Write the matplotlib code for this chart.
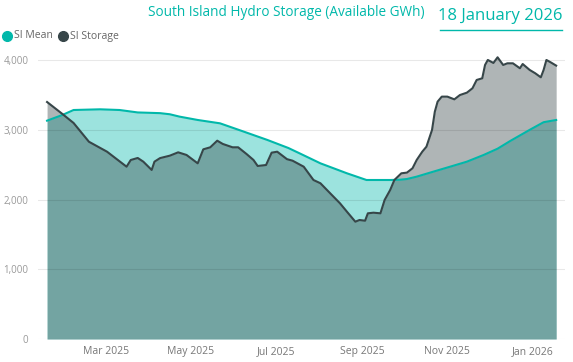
import matplotlib
matplotlib.use("Agg")
import matplotlib.pyplot as plt
import matplotlib.dates as mdates
from matplotlib.lines import Line2D
from matplotlib.ticker import FuncFormatter
import pandas as pd

# SI storage, GWh
storage_dates = ["2025-01-18", "2025-01-29", "2025-02-06", "2025-02-17", "2025-03-02",
                 "2025-03-16", "2025-03-19", "2025-03-24", "2025-03-28", "2025-04-03",
                 "2025-04-05", "2025-04-09", "2025-04-16", "2025-04-22", "2025-04-28",
                 "2025-05-06", "2025-05-10", "2025-05-15", "2025-05-20", "2025-05-24",
                 "2025-05-31", "2025-06-04", "2025-06-10", "2025-06-15", "2025-06-18",
                 "2025-06-24", "2025-06-28", "2025-07-02", "2025-07-09", "2025-07-13",
                 "2025-07-21", "2025-07-28", "2025-08-02", "2025-08-09", "2025-08-16",
                 "2025-08-21", "2025-08-27", "2025-08-30", "2025-09-03", "2025-09-05",
                 "2025-09-09", "2025-09-14", "2025-09-17", "2025-09-21", "2025-09-24",
                 "2025-09-29", "2025-10-03", "2025-10-07", "2025-10-10", "2025-10-14",
                 "2025-10-17", "2025-10-21", "2025-10-23", "2025-10-25", "2025-10-28",
                 "2025-11-01", "2025-11-06", "2025-11-10", "2025-11-15", "2025-11-19",
                 "2025-11-22", "2025-11-26", "2025-11-28", "2025-11-30", "2025-12-04",
                 "2025-12-07", "2025-12-11", "2025-12-14", "2025-12-18", "2025-12-23",
                 "2025-12-25", "2025-12-30", "2026-01-03", "2026-01-07", "2026-01-09",
                 "2026-01-11", "2026-01-14", "2026-01-18"]
storage_gwh = [3400, 3228, 3099, 2830, 2687,
               2472, 2568, 2597, 2544, 2425,
               2544, 2595, 2630, 2678, 2640,
               2520, 2721, 2750, 2845, 2798,
               2750, 2750, 2654, 2568, 2482,
               2496, 2673, 2687, 2580, 2558,
               2472, 2281, 2234, 2090, 1947,
               1826, 1683, 1707, 1697, 1803,
               1812, 1803, 1994, 2138, 2281,
               2377, 2387, 2449, 2568, 2687,
               2759, 2999, 3261, 3405, 3477,
               3477, 3438, 3500, 3534, 3597,
               3716, 3740, 3931, 4003, 3960,
               4041, 3931, 3955, 3955, 3884,
               3945, 3860, 3812, 3754, 3860,
               4003, 3970, 3922]

# SI mean, GWh
mean_dates = ["2025-01-18", "2025-01-29", "2025-02-06", "2025-02-25", "2025-03-11",
              "2025-03-24", "2025-04-09", "2025-04-16", "2025-04-23", "2025-05-06",
              "2025-05-22", "2025-06-08", "2025-06-25", "2025-07-10", "2025-07-18",
              "2025-08-02", "2025-08-21", "2025-09-04", "2025-09-21", "2025-09-28",
              "2025-10-03", "2025-10-10", "2025-10-22", "2025-11-03", "2025-11-15",
              "2025-11-27", "2025-12-07", "2025-12-16", "2025-12-30", "2026-01-09",
              "2026-01-18"]
mean_gwh = [3132, 3214, 3285, 3295, 3285,
            3250, 3240, 3224, 3190, 3142,
            3094, 2975, 2855, 2740, 2664,
            2520, 2377, 2281, 2281, 2285,
            2295, 2329, 2401, 2472, 2544,
            2640, 2730, 2840, 3000, 3110,
            3142]

month_ticks = ["2025-03-01", "2025-05-01", "2025-07-01", "2025-09-01", "2025-11-01", "2026-01-01"]

teal = "#01B8AA"
dark = "#374649"

plt.rcParams['font.family'] = ['Open Sans', 'DejaVu Sans']

s_dates = pd.to_datetime(storage_dates)
m_dates = pd.to_datetime(mean_dates)

fig = plt.figure(figsize=(5.73, 3.62), dpi=100)
ax = fig.add_axes([38/573, 23/362, 527/573, 285.8/362])

ax.fill_between(m_dates, mean_gwh, 0, color=teal, alpha=0.39, lw=0)
ax.fill_between(s_dates, storage_gwh, 0, color=dark, alpha=0.40, lw=0)
ax.plot(m_dates, mean_gwh, color=teal, lw=1.5, zorder=3)
ax.plot(s_dates, storage_gwh, color=dark, lw=1.5, zorder=4)

ax.set_xlim(pd.Timestamp("2025-01-11 12:00"), pd.Timestamp("2026-01-24 08:00"))
ax.set_ylim(0, 4100)
ax.set_yticks([0, 1000, 2000, 3000, 4000])
ax.yaxis.set_major_formatter(FuncFormatter(lambda v, p: f"{int(v):,}"))
ax.set_xticks(pd.to_datetime(month_ticks))
ax.xaxis.set_major_formatter(mdates.DateFormatter("%b %Y"))

ax.set_axisbelow('line')
ax.grid(axis='y', color='black', alpha=0.09, lw=0.8)
for sp in ax.spines.values():
    sp.set_visible(False)
ax.tick_params(axis='both', length=0, labelsize=7.5)
ax.tick_params(axis='y', colors='#999999', labelsize=7, pad=7)
ax.tick_params(axis='x', colors='#777777', pad=5)

fig.text(148/573, 1 - 12/362, "South Island Hydro Storage (Available GWh)",
         color=teal, fontsize=9.8, va='center', ha='left')
fig.text(562/573, 1 - 16/362, "18 January 2026",
         color=teal, fontsize=12, va='center', ha='right')
fig.add_artist(Line2D([440/573, 562/573], [1 - 30/362, 1 - 30/362], color=teal, lw=1))

# legend drawn by hand: dot + label
legend_items = [("SI Mean", teal, 7, 14), ("SI Storage", dark, 63, 70)]
for label, col, dot_x, txt_x in legend_items:
    fig.add_artist(Line2D([dot_x/573], [1 - 36/362], marker='o', ls='',
                          color=col, markersize=7))
    fig.text(txt_x/573, 1 - 36/362, label, color='#666666', fontsize=7.5,
             va='center', ha='left')

fig.savefig("out.png", dpi=100)
